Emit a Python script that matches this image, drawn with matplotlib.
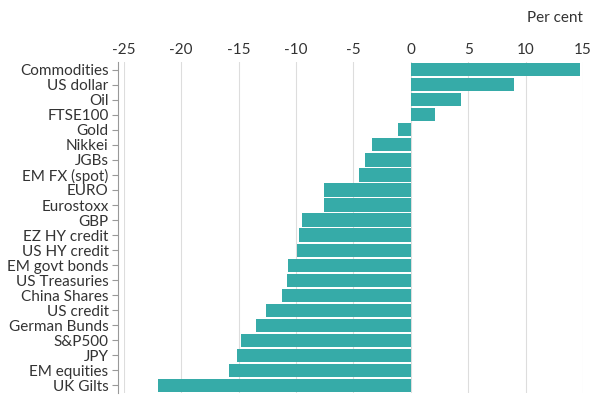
import matplotlib
matplotlib.use("Agg")
import matplotlib.pyplot as plt

# 数据
labels = ["Commodities", "US dollar", "Oil", "FTSE100", "Gold", "Nikkei", "JGBs",
          "EM FX (spot)", "EURO", "Eurostoxx", "GBP", "EZ HY credit", "US HY credit",
          "EM govt bonds", "US Treasuries", "China Shares", "US credit", "German Bunds",
          "S&P500", "JPY", "EM equities", "UK Gilts"]
values = [14.7, 9.0, 4.4, 2.1, -1.1, -3.4, -4.0, -4.5, -7.6, -7.6, -9.5, -9.7, -9.9,
          -10.7, -10.8, -11.2, -12.6, -13.5, -14.8, -15.1, -15.8, -22.0]
xticks = [-25, -20, -15, -10, -5, 0, 5, 10, 15]

plt.rcParams["font.family"] = "Lato"
fig = plt.figure(figsize=(6.01, 4.01), dpi=100)
ax = fig.add_axes([0.206, 0.02, 0.764, 0.825])

pos = list(range(len(labels)))
ax.barh(pos, values, height=0.88, color="#36aba8", zorder=2)
ax.set_ylim(len(labels) - 0.5, -0.5)
ax.set_xlim(-25, 15)
ax.set_xticks(xticks)
ax.set_xticklabels([str(t) for t in xticks])
ax.xaxis.tick_top()
ax.tick_params(axis="x", length=0, labelsize=11, colors="#333333", pad=4)
ax.set_yticks(pos)
ax.set_yticklabels(labels)
ax.tick_params(axis="y", length=4, labelsize=11, colors="#333333", pad=3, color="#999999")
ax.grid(axis="x", color="#dddddd", linewidth=0.8, zorder=0)
for s in ["top", "right", "bottom"]:
    ax.spines[s].set_visible(False)
ax.spines["left"].set_color("#999999")
ax.spines["left"].set_position(("outward", 4))
fig.text(0.97, 0.955, "Per cent", ha="right", va="center", fontsize=11, color="#333333")
fig.savefig("out.png", dpi=100)
